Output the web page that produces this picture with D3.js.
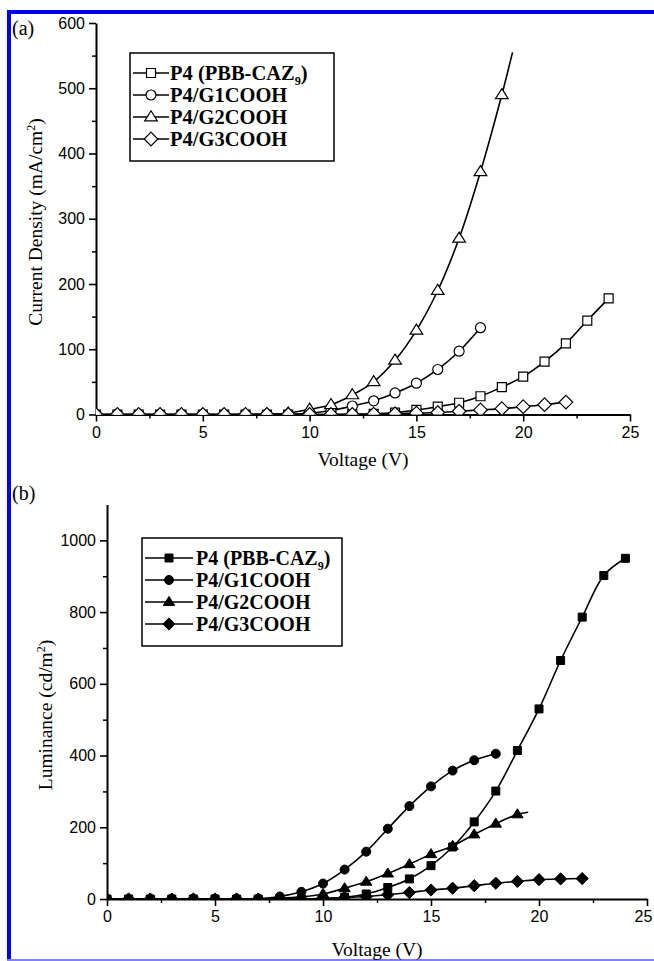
<!DOCTYPE html>
<html><head><meta charset="utf-8">
<script src="https://cdn.jsdelivr.net/npm/d3@7"></script>
<style>
html,body{margin:0;padding:0;background:#fff;}
svg{display:block;}
.tick text{font-family:"Liberation Sans",Arial,sans-serif;font-size:16px;fill:#000;}
</style></head>
<body><svg id="c" width="654" height="961"></svg>
<script>
// ---------- data ----------
const voltage = d3.range(0, 25); // 0..24 V
const seriesNames = ["P4 (PBB-CAZ9)", "P4/G1COOH", "P4/G2COOH", "P4/G3COOH"];
const markerTypes = ["square", "circle", "triangle", "diamond"];

// Panel (a): current density (mA/cm2)
const jP4a   = [0,0,0,0,0,0,0,0,0,0,0,0,0.5,1,3,7,12,18,28,42,58,81,109,144,178];
const jG1a   = [0,0,0,0,0,0,0,0,0,0.5,2,6,13,21,33,48,69,97,133];
const jG2a   = [0,0,0,0,0,0,0,0,0.5,2,8,15,30,50,83,129,190,270,372,490];
const jG3a   = [0,0,0,0,0,0,0,0,0,0,0,0,0,0.5,1,2,3,5,7,9,12,15,19];
const jG2aTail = [[19.5, 555]];

// Panel (b): luminance (cd/m2)
const lP4b   = [0,0,0,0,0,0,0,0,0,0,1,5,14,32,56,93,145,215,301,414,530,665,786,902,950];
const lG1b   = [0,0,0,0,0,0,0,1,7,20,43,82,132,196,259,314,358,387,405];
const lG2b   = [0,0,0,0,0,0,0,0,2,6,14,30,48,71,97,125,148,180,210,236];
const lG3b   = [0,0,0,0,0,0,0,0,0,0,2,4,7,12,18,25,30,37,44,49,54,56,57];
const lG2bTail = [[19.5, 242]];

const xTicks = [0,5,10,15,20,25];
const yTicksA = [0,100,200,300,400,500,600];
const yTicksB = [0,200,400,600,800,1000];

// ---------- helpers ----------
const svg = d3.select("#c");
const serif = '"Liberation Serif","Times New Roman",serif';

function markerPath(type, s) {
  const h = s/2;
  if (type === "square") return `M${-h},${-h}H${h}V${h}H${-h}Z`;
  if (type === "circle") return `M${h},0A${h},${h} 0 1,1 ${-h},0A${h},${h} 0 1,1 ${h},0Z`;
  if (type === "triangle") { const t = s*0.62; return `M0,${-t}L${t*1.02},${t*0.62}L${-t*1.02},${t*0.62}Z`; }
  if (type === "diamond") { const d = s*0.68; return `M0,${-d}L${d},0L0,${d}L${-d},0Z`; }
}

function panel(cfg) {
  const g = svg.append("g");
  const x = d3.scaleLinear().domain([0,25]).range([cfg.x0, cfg.x1]);
  const y = d3.scaleLinear().domain([0, cfg.yMax]).range([cfg.y0, cfg.y1]);

  const clipId = "clip" + cfg.id;
  svg.append("clipPath").attr("id", clipId).append("rect")
    .attr("x", cfg.x0).attr("y", 0).attr("width", 660 - cfg.x0).attr("height", cfg.y0);

  // minor ticks
  const xMinor = d3.range(2.5, 25, 5);
  g.append("g").attr("transform", `translate(0,${cfg.y0})`)
    .call(d3.axisBottom(x).tickValues(xMinor).tickSize(4).tickFormat(""))
    .call(a => a.select(".domain").remove())
    .selectAll("line").attr("stroke", "#000").attr("stroke-width", 1.5);
  g.append("g").attr("transform", `translate(${cfg.x0},0)`)
    .call(d3.axisLeft(y).tickValues(cfg.yMinor).tickSize(4).tickFormat(""))
    .call(a => a.select(".domain").remove())
    .selectAll("line").attr("stroke", "#000").attr("stroke-width", 1.5);

  // major axes
  const ax = g.append("g").attr("transform", `translate(0,${cfg.y0})`)
    .call(d3.axisBottom(x).tickValues(xTicks).tickSize(7).tickSizeOuter(0).tickPadding(5).tickFormat(d3.format("d")));
  const ay = g.append("g").attr("transform", `translate(${cfg.x0},0)`)
    .call(d3.axisLeft(y).tickValues(cfg.yTicks).tickSize(7).tickSizeOuter(0).tickPadding(4).tickFormat(d3.format("d")));
  [ax, ay].forEach(a => {
    a.select(".domain").attr("stroke", "#000").attr("stroke-width", 2);
    a.selectAll(".tick line").attr("stroke", "#000").attr("stroke-width", 1.6);
  });
  // keep the last x label inside the page
  ax.selectAll(".tick text").filter(d => d === 25 && cfg.x1 > 640).attr("dx", -4);

  // series
  const plot = g.append("g").attr("clip-path", `url(#${clipId})`);
  const line = d3.line().x(d => x(d[0])).y(d => y(d[1])).curve(d3.curveCatmullRom.alpha(0.5));
  cfg.series.forEach((vals, i) => {
    const pts = vals.map((v, k) => [voltage[k], v]);
    const all = pts.concat(cfg.tails[i] || []);
    plot.append("path").attr("d", line(all)).attr("fill", "none")
      .attr("stroke", "#000").attr("stroke-width", 1.6);
  });
  cfg.series.forEach((vals, i) => {
    plot.selectAll(null).data(vals.map((v, k) => [voltage[k], v])).enter().append("path")
      .attr("d", markerPath(markerTypes[i], cfg.mSize[i]))
      .attr("transform", d => `translate(${x(d[0])},${y(d[1])})`)
      .attr("fill", cfg.filled ? "#000" : "#fff")
      .attr("stroke", "#000").attr("stroke-width", cfg.filled ? 1 : 1.2);
  });

  // axis titles
  g.append("text").attr("x", (cfg.x0 + cfg.x1)/2).attr("y", cfg.xTitleY)
    .attr("text-anchor", "middle").attr("font-family", serif).attr("font-size", 19.5)
    .text("Voltage (V)");
  const yt = g.append("text").attr("transform", `translate(${cfg.yTitleX},${cfg.yTitleCY}) rotate(-90)`)
    .attr("text-anchor", "middle").attr("font-family", serif).attr("font-size", 19.5);
  yt.append("tspan").text(cfg.yTitle[0]);
  yt.append("tspan").attr("font-size", 12).attr("dy", -7).text("2");
  yt.append("tspan").attr("dy", 7).text(")");

  // panel label
  g.append("text").attr("x", 12).attr("y", cfg.labelY).attr("font-family", serif)
    .attr("font-size", 20).text(cfg.label);

  // legend
  const L = cfg.legend;
  g.append("rect").attr("x", L.x).attr("y", L.y).attr("width", L.w).attr("height", L.h)
    .attr("fill", "#fff").attr("stroke", "#000").attr("stroke-width", 1.5);
  seriesNames.forEach((name, i) => {
    const cy = L.y + L.first + i * L.step;
    g.append("line").attr("x1", L.x + 3).attr("x2", L.x + 3 + L.lineLen).attr("y1", cy).attr("y2", cy)
      .attr("stroke", "#000").attr("stroke-width", 1.6);
    g.append("path").attr("d", markerPath(markerTypes[i], cfg.mSize[i]))
      .attr("transform", `translate(${L.x + 3 + L.lineLen/2},${cy})`)
      .attr("fill", cfg.filled ? "#000" : "#fff").attr("stroke", "#000").attr("stroke-width", cfg.filled ? 1 : 1.2);
    const t = g.append("text").attr("x", L.x + L.lineLen + L.gap).attr("y", cy + 7)
      .attr("font-family", serif).attr("font-weight", "bold").attr("font-size", L.fs);
    if (i === 0) {
      t.append("tspan").text("P4 (PBB-CAZ");
      t.append("tspan").attr("font-size", L.fs * 0.6).attr("dy", 5).text("9");
      t.append("tspan").attr("dy", -5).text(")");
    } else t.text(name);
  });
}

// ---------- frame ----------
svg.append("rect").attr("x", 7).attr("y", 10).attr("width", 647).attr("height", 4).attr("fill", "#0000f0");
svg.append("rect").attr("x", 7).attr("y", 10).attr("width", 4).attr("height", 951).attr("fill", "#0000f0");
svg.append("rect").attr("x", 7).attr("y", 959).attr("width", 647).attr("height", 2).attr("fill", "#8080ff");

panel({
  id: "a", x0: 96, x1: 630, y0: 414.5, y1: 23, yMax: 600,
  yTicks: yTicksA, yMinor: d3.range(50, 600, 100),
  series: [jP4a, jG1a, jG2a, jG3a], tails: [null, null, jG2aTail, null],
  mSize: [9, 10, 10, 10], filled: false,
  xTitleY: 466, yTitleX: 42, yTitleCY: 222, yTitle: ["Current Density (mA/cm"],
  label: "(a)", labelY: 35,
  legend: {x: 130, y: 53, w: 204, h: 108, first: 20, step: 22, lineLen: 36, gap: 4, fs: 20.5}
});
panel({
  id: "b", x0: 107, x1: 647, y0: 899, y1: 504.5, yMax: 1100,
  yTicks: yTicksB, yMinor: d3.range(100, 1100, 200),
  series: [lP4b, lG1b, lG2b, lG3b], tails: [null, null, lG2bTail, null],
  mSize: [8, 9, 9, 9], filled: true,
  xTitleY: 956, yTitleX: 52, yTitleCY: 715, yTitle: ["Luminance (cd/m"],
  label: "(b)", labelY: 500,
  legend: {x: 142, y: 538, w: 200, h: 108, first: 20, step: 22, lineLen: 48, gap: 6, fs: 20}
});
</script></body></html>
